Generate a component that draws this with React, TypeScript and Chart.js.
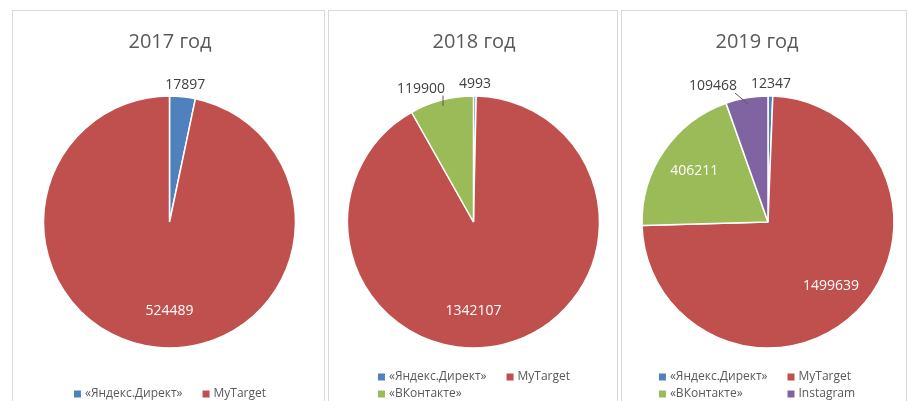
import React, { useEffect, useRef } from "react";
import { Chart, registerables } from "chart.js";

Chart.register(...registerables);

// ---- data ----
const titles = ["2017 год", "2018 год", "2019 год"];
const categories2017 = ["«Яндекс.Директ»", "MyTarget"];
const values2017 = [17897, 524489];
const categories2018 = ["«Яндекс.Директ»", "MyTarget", "«ВКонтакте»"];
const values2018 = [4993, 1342107, 119900];
const categories2019 = ["«Яндекс.Директ»", "MyTarget", "«ВКонтакте»", "Instagram"];
const values2019 = [12347, 1499639, 406211, 109468];
const sliceColors = ["#4F81BD", "#C0504D", "#9BBB59", "#8064A2"];

// ---- layout (page coordinates) ----
const PANELS = [
  { left: 12, width: 313, pieCx: 169.5, textCx: 170 },
  { left: 328, width: 290, pieCx: 473.5, textCx: 474 },
  { left: 621, width: 286, pieCx: 768, textCx: 757 },
];
const PANEL_TOP = 10;
const PANEL_H = 400;
const PIE_CY = 222;
const RADIUS = 126;
const FONT = '"Open Sans", "Liberation Sans", sans-serif';

const decorPlugin = {
  id: "excelDecor",
  afterDraw(chart: any, _args: any, opts: any) {
    const ctx: CanvasRenderingContext2D = chart.ctx;
    const values: number[] = chart.data.datasets[0].data;
    const labels: string[] = chart.data.labels;
    const colors: string[] = chart.data.datasets[0].backgroundColor;
    const total = values.reduce((a, b) => a + b, 0);
    ctx.save();

    // title
    ctx.font = `20px ${FONT}`;
    ctx.fillStyle = "#595959";
    ctx.textAlign = "center";
    ctx.textBaseline = "middle";
    ctx.fillText(opts.title, opts.textCx, opts.titleY);

    // data labels
    const meta = chart.getDatasetMeta(0);
    ctx.font = `14px ${FONT}`;
    const outside: any[] = [];
    meta.data.forEach((arc: any, i: number) => {
      const p = arc.getProps(["x", "y", "startAngle", "endAngle", "outerRadius"], true);
      const pct = values[i] / total;
      let a = (p.startAngle + p.endAngle) / 2;
      const text = String(values[i]);
      if (pct >= 0.1) {
        if (pct > 0.8 && p.startAngle <= Math.PI / 2 && p.endAngle >= Math.PI / 2) a = Math.PI / 2;
        const d = p.outerRadius * 0.71;
        ctx.fillStyle = "#ffffff";
        ctx.textAlign = "center";
        ctx.fillText(text, p.x + Math.cos(a) * d, p.y + Math.sin(a) * d);
      } else {
        const w = ctx.measureText(text).width;
        const h = 10;
        const ar = p.outerRadius + 7;
        const cx = p.x + Math.cos(a) * ar + Math.cos(a) * (w / 2);
        const cy = p.y + Math.sin(a) * ar + Math.sin(a) * (h / 2);
        outside.push({ text, w, h, cx, cy, nx: cx, a, p });
      }
    });
    // resolve overlaps
    outside.sort((u, v) => u.cx - v.cx);
    const G = 14;
    for (let k = 0; k < outside.length - 1; k++) {
      const L = outside[k];
      const R = outside[k + 1];
      if (Math.abs(L.cy - R.cy) > 16) continue;
      const overlap = L.cx + L.w / 2 + G - (R.cx - R.w / 2);
      if (overlap > 0) {
        if (Math.abs(Math.cos(L.a)) >= Math.abs(Math.cos(R.a))) L.cx -= overlap;
        else R.cx += overlap;
      }
    }
    outside.forEach((o) => {
      ctx.fillStyle = "#404040";
      ctx.textAlign = "center";
      ctx.fillText(o.text, o.cx, o.cy);
      if (Math.abs(o.cx - o.nx) > 3) {
        const ex = o.p.x + Math.cos(o.a) * (o.p.outerRadius - 6);
        const ey = o.p.y + Math.sin(o.a) * (o.p.outerRadius - 6);
        const sx = Math.min(Math.max(ex, o.cx - o.w / 2 + 2), o.cx + o.w / 2 - 2);
        const sy = o.cy + 7;
        ctx.strokeStyle = "#595959";
        ctx.lineWidth = 1;
        ctx.beginPath();
        ctx.moveTo(sx, sy);
        ctx.lineTo(ex, ey);
        ctx.stroke();
      }
    });

    // legend
    ctx.font = `12px ${FONT}`;
    const items = labels.map((l, i) => ({ l, c: colors[i], w: 11 + ctx.measureText(l).width }));
    const maxW = Math.max(...items.map((it) => it.w));
    const stride = maxW + 20;
    const avail = chart.width - 40;
    const cols = Math.max(1, Math.min(items.length, Math.floor((avail + 20) / stride)));
    const rows = Math.ceil(items.length / cols);
    let lastColW = 0;
    items.forEach((it, i) => {
      if (i % cols === cols - 1 || cols === 1) lastColW = Math.max(lastColW, it.w);
    });
    if (items.length < cols) lastColW = items[items.length - 1].w;
    const blockW = (cols - 1) * stride + lastColW;
    const x0 = opts.textCx - blockW / 2;
    ctx.textAlign = "left";
    items.forEach((it, i) => {
      const col = i % cols;
      const row = Math.floor(i / cols);
      const x = x0 + col * stride;
      const y = opts.legendBottomY - (rows - 1 - row) * 17;
      ctx.fillStyle = it.c;
      ctx.fillRect(x, y - 3.5, 7, 7);
      ctx.fillStyle = "#595959";
      ctx.fillText(it.l, x + 11, y);
    });
    ctx.restore();
  },
};

function PiePanel({ idx, labels, values }: { idx: number; labels: string[]; values: number[] }) {
  const ref = useRef<HTMLCanvasElement | null>(null);
  const P = PANELS[idx];
  const W = P.width - 2;
  const H = PANEL_H - 2;
  useEffect(() => {
    if (!ref.current) return;
    const originX = P.left + 1;
    const originY = PANEL_TOP + 1;
    const cx = P.pieCx - originX;
    const cy = PIE_CY - originY;
    const half = 130;
    const chart = new Chart(ref.current, {
      type: "pie",
      data: {
        labels,
        datasets: [
          {
            data: values,
            backgroundColor: sliceColors.slice(0, values.length),
            borderColor: "#ffffff",
            borderWidth: 1.5,
            radius: RADIUS,
          } as any,
        ],
      },
      options: {
        responsive: false,
        animation: false,
        events: [],
        layout: {
          padding: { left: cx - half, right: W - cx - half, top: cy - half, bottom: H - cy - half },
        },
        plugins: {
          legend: { display: false },
          title: { display: false },
          tooltip: { enabled: false },
          excelDecor: {
            title: titles[idx],
            textCx: P.textCx - originX,
            titleY: 42 - originY,
            legendBottomY: 394 - originY,
          },
        } as any,
      },
      plugins: [decorPlugin],
    });
    return () => chart.destroy();
  }, []);
  return (
    <div
      style={{
        position: "absolute",
        left: P.left,
        top: PANEL_TOP,
        width: P.width,
        height: PANEL_H,
        border: "1px solid #d9d9d9",
        boxSizing: "border-box",
        background: "#fff",
      }}
    >
      <canvas ref={ref} width={W} height={H} style={{ display: "block", width: W, height: H }} />
    </div>
  );
}

export default function App() {
  return (
    <div
      style={{
        position: "fixed",
        left: 0,
        top: 0,
        width: 909,
        height: 401,
        overflow: "hidden",
        background: "#ffffff",
      }}
    >
      <PiePanel idx={0} labels={categories2017} values={values2017} />
      <PiePanel idx={1} labels={categories2018} values={values2018} />
      <PiePanel idx={2} labels={categories2019} values={values2019} />
    </div>
  );
}
